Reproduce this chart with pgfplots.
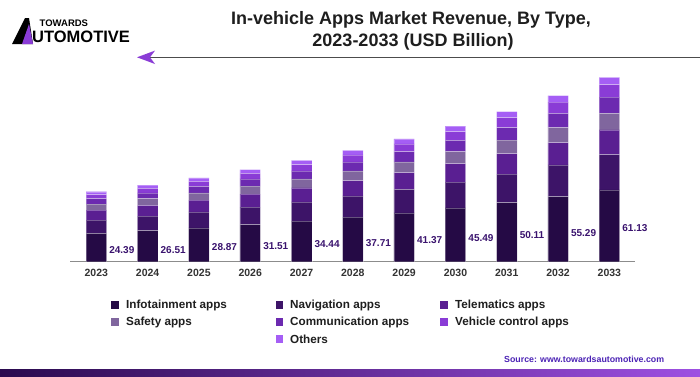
\documentclass[border=0pt]{standalone}
\usepackage{fontspec}
\setmainfont{Liberation Sans}
\usepackage{pgfplots}
\pgfplotsset{compat=1.18}
\definecolor{cInfo}{HTML}{250A45}
\definecolor{cNav}{HTML}{3D1468}
\definecolor{cTele}{HTML}{5A1F92}
\definecolor{cSafe}{HTML}{80669E}
\definecolor{cComm}{HTML}{6C2AB0}
\definecolor{cVeh}{HTML}{8A3CD6}
\definecolor{cOth}{HTML}{A55EF5}
\definecolor{cLab}{HTML}{3A136E}
\definecolor{cSrc}{HTML}{4B22B5}
\definecolor{cTxt}{HTML}{1E1E1E}
\definecolor{gradL}{HTML}{2A0A4E}
\definecolor{gradR}{HTML}{9E50E2}
\begin{document}
\begin{tikzpicture}[x=1pt,y=1pt]
\path[use as bounding box] (0,0) rectangle (700,376);
\fill[white] (0,0) rectangle (700,376);
% logo
\fill[black] (12,332) -- (25,358) -- (29,358) -- (33,332) -- cycle;
\fill[cVeh] (22,332) -- (29,352) -- (33,332) -- cycle;
\node[anchor=west, inner sep=0pt, font=\bfseries\fontsize{9.5}{10}\selectfont] at (39.5,353) {TOWARDS};
\node[anchor=west, inner sep=0pt, font=\bfseries\fontsize{16.5}{17}\selectfont] at (32,339) {UTOMOTIVE};
% title
\node[font=\bfseries\fontsize{18}{21}\selectfont, text=cTxt] at (411,356) {In-vehicle Apps Market Revenue, By Type,};
\node[font=\bfseries\fontsize{18}{21}\selectfont, text=cTxt] at (413,334.3) {2023-2033 (USD Billion)};
% arrow line
\draw[line width=1pt, black!70] (148,318.7) -- (700,318.7);
\fill[cVeh] (137,318.7) -- (155,312) -- (150,318.7) -- (155,325.4) -- cycle;
\begin{axis}[at={(70pt,114.3pt)}, anchor=south west, scale only axis,
  width=565pt, height=191.7pt,
  clip mode=individual,
  ybar stacked, bar width=20.5pt,
  ymin=1.9, ymax=63.5, xmin=-0.513, xmax=10.5,
  axis y line=none, axis x line*=bottom,
  x axis line style={draw=black!45, line width=1.2pt, -},
  xtick={0,...,10},
  xticklabels={2023,2024,2025,2026,2027,2028,2029,2030,2031,2032,2033},
  major tick length=0pt,
  xticklabel style={font=\bfseries\fontsize{10.5}{12}\selectfont, text=black!80, anchor=north, inner sep=0pt, yshift=-7.5pt},
  every axis plot/.append style={draw=white, draw opacity=0.3, line width=0.4pt},
]
\addplot[fill=cInfo] coordinates {(0,11.02) (1,11.87) (2,12.80) (3,13.83) (4,14.96) (5,16.22) (6,17.61) (7,19.16) (8,20.89) (9,22.80) (10,24.95)};
\addplot[fill=cNav] coordinates {(0,4.27) (1,4.67) (2,5.11) (3,5.61) (4,6.17) (5,6.80) (6,7.50) (7,8.30) (8,9.19) (9,10.20) (10,11.34)};
\addplot[fill=cTele] coordinates {(0,3.22) (1,3.49) (2,3.80) (3,4.14) (4,4.52) (5,4.94) (6,5.41) (7,5.94) (8,6.53) (9,7.20) (10,7.94)};
\addplot[fill=cSafe] coordinates {(0,1.93) (1,2.12) (2,2.33) (3,2.57) (4,2.84) (5,3.15) (6,3.49) (7,3.88) (8,4.32) (9,4.82) (10,5.37)};
\addplot[fill=cComm] coordinates {(0,1.71) (1,1.89) (2,2.10) (3,2.34) (4,2.60) (5,2.90) (6,3.24) (7,3.63) (8,4.07) (9,4.57) (10,5.15)};
\addplot[fill=cVeh] coordinates {(0,1.29) (1,1.44) (2,1.61) (3,1.79) (4,2.00) (5,2.24) (6,2.52) (7,2.82) (8,3.18) (9,3.58) (10,4.05)};
\addplot[fill=cOth] coordinates {(0,0.95) (1,1.03) (2,1.12) (3,1.23) (4,1.35) (5,1.46) (6,1.60) (7,1.76) (8,1.93) (9,2.12) (10,2.33)};
\foreach \xx/\yy/\tt in {0/5.66/24.39, 1/5.66/26.51, 2/6.53/28.87, 3/6.95/31.51, 4/7.59/34.44, 5/8.01/37.71, 6/8.88/41.37, 7/9.42/45.49, 8/10.48/50.11, 9/11.22/55.29, 10/12.64/61.13}{
  \edef\temp{\noexpand\node[anchor=west, inner sep=0pt, text=cLab, font=\noexpand\bfseries\noexpand\fontsize{10}{12}\noexpand\selectfont] at (axis cs:\xx+0.25,\yy) {\tt};}
  \temp
}
\end{axis}
% legend
\def\legfont{\bfseries\fontsize{11.7}{14}\selectfont}
\foreach \mx/\tx/\ry/\cc/\lab in {111/126/71/cInfo/Infotainment apps, 275.5/290/71/cNav/Navigation apps, 440/455/71/cTele/Telematics apps, 111/126/54/cSafe/Safety apps, 275.5/290/54/cComm/Communication apps, 440/455/54/cVeh/Vehicle control apps, 275.5/290/37/cOth/Others}{
  \fill[\cc] (\mx,\ry-3.7) rectangle ++(7.5,7.5);
  \node[anchor=west, inner sep=0pt, text=cTxt, font=\legfont] at (\tx,\ry) {\lab};
}
% source
\node[anchor=west, inner sep=0pt, text=cSrc, font=\bfseries\fontsize{8.8}{10}\selectfont] at (504,17) {Source: www.towardsautomotive.com};
% bottom gradient bar
\shade[left color=gradL, right color=gradR] (0,0) rectangle (700,7);
\end{tikzpicture}
\end{document}
